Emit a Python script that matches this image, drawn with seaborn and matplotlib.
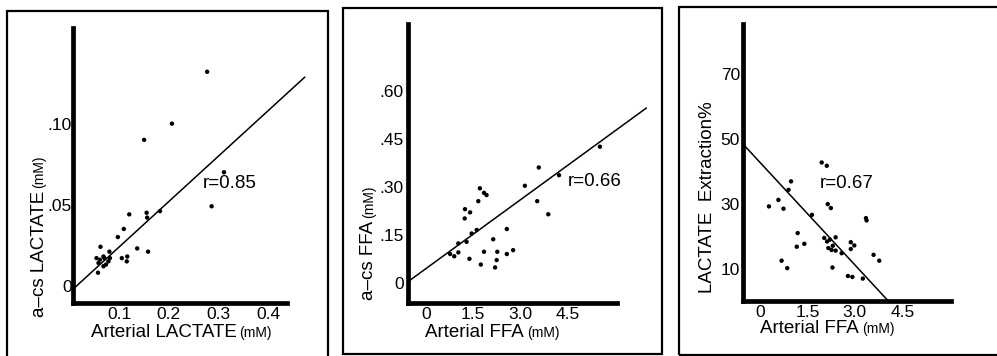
import numpy as np
import pandas as pd
import seaborn as sns
import matplotlib
matplotlib.use("Agg")
import matplotlib.pyplot as plt
from matplotlib.patches import Rectangle

# --- data ---
# panel A: arterial lactate vs a-cs lactate difference
lac_art = [0.277, 0.206, 0.150, 0.311, 0.286, 0.155, 0.156, 0.182, 0.120, 0.109,
           0.097, 0.062, 0.136, 0.158, 0.054, 0.068, 0.080, 0.081, 0.105, 0.116,
           0.115, 0.061, 0.058, 0.057, 0.068, 0.073, 0.078, 0.070]
lac_diff = [0.132, 0.100, 0.090, 0.070, 0.049, 0.045, 0.042, 0.046, 0.044, 0.035,
            0.030, 0.024, 0.023, 0.021, 0.017, 0.018, 0.021, 0.017, 0.017, 0.018,
            0.015, 0.016, 0.014, 0.008, 0.012, 0.013, 0.015, 0.017]
lac_fit_x = [0.006, 0.474]
lac_fit = (-0.004, 0.28)      # intercept, slope
lac_r = "r=0.85"

# panel B: arterial FFA vs a-cs FFA difference
ffa_art = [5.50, 3.57, 4.21, 3.13, 3.52, 3.87, 1.71, 1.84, 1.92, 1.66,
           1.24, 1.40, 1.23, 2.56, 1.61, 1.45, 2.13, 1.29, 1.03, 2.26,
           1.84, 2.76, 1.03, 2.56, 0.77, 0.90, 1.38, 2.24, 1.74, 2.19]
ffa_diff = [0.427, 0.362, 0.338, 0.305, 0.257, 0.216, 0.297, 0.283, 0.276, 0.257,
            0.232, 0.222, 0.203, 0.170, 0.167, 0.156, 0.138, 0.130, 0.125, 0.099,
            0.099, 0.104, 0.097, 0.092, 0.092, 0.085, 0.077, 0.073, 0.059, 0.050]
ffa_fit_x = [-0.57, 6.97]
ffa_fit = (0.046, 0.072)
ffa_r = "r=0.66"

# panel C: arterial FFA vs lactate extraction
ext_ffa = [1.95, 2.11, 0.98, 0.90, 0.58, 0.28, 0.74, 2.14, 2.24, 1.64,
           3.35, 3.37, 1.19, 2.03, 2.39, 2.12, 2.21, 2.87, 1.40, 2.98,
           1.16, 2.16, 2.30, 2.87, 2.39, 2.26, 2.58, 3.59, 3.77, 0.68,
           0.86, 2.29, 2.78, 2.92, 3.25]
ext_pct = [42.8, 41.8, 37.0, 34.4, 31.3, 29.3, 28.6, 30.0, 28.8, 26.7,
           25.7, 25.0, 21.1, 19.6, 19.8, 18.5, 19.1, 18.3, 17.8, 17.3,
           16.9, 16.5, 17.2, 16.2, 15.7, 15.9, 14.9, 14.4, 12.6, 12.6,
           10.3, 10.5, 7.9, 7.6, 7.1]
ext_fit_x = [-0.55, 4.07]
ext_fit = (42.8, -10.5)
ext_r = "r=0.67"

W, H = 997, 356
sns.set_style("white")
plt.rcParams['font.family'] = ['Liberation Sans', 'DejaVu Sans']
plt.rcParams['text.color'] = 'black'

fig = plt.figure(figsize=(W / 100, H / 100), dpi=100)


def fx(px):
    return px / W


def fy(py):
    return 1 - py / H


def box(l, t, r, b, lw=1.6):
    fig.patches.append(Rectangle((fx(l), fy(b)), fx(r - l), (b - t) / H,
                                 transform=fig.transFigure, fill=False,
                                 edgecolor="black", linewidth=lw))


def add_panel(l, t, r, b, xlim, ylim, ypad):
    ax = fig.add_axes([fx(l), fy(b), fx(r - l), (b - t) / H])
    ax.set_xlim(*xlim)
    ax.set_ylim(*ylim)
    sns.despine(ax=ax)
    for s in ("left", "bottom"):
        ax.spines[s].set_linewidth(3.4)
        ax.spines[s].set_color("black")
    ax.tick_params(length=0, labelsize=12.5, colors="black", labelcolor="black")
    ax.tick_params(axis="x", pad=3)
    ax.tick_params(axis="y", pad=ypad)
    ax.patch.set_alpha(0)
    return ax


def two_part(x, y, main, small, rot=0, size=13.5, small_size=10):
    # main text + smaller "(mM)" suffix, positioned in pixel coords
    kw = dict(transform=fig.transFigure, ha="left", va="baseline",
              rotation=rot, rotation_mode="anchor", color="black")
    t = fig.text(fx(x), fy(y), main, fontsize=size, **kw)
    if small:
        r = fig.canvas.get_renderer()
        ext = t.get_window_extent(renderer=r)
        if rot == 0:
            fig.text(fx(x + ext.width + 3), fy(y), small, fontsize=small_size, **kw)
        else:
            fig.text(fx(x), fy(y - ext.height - 3), small, fontsize=small_size, **kw)


def draw(ax, xs, ys, fit_x, fit, r_txt, r_xy):
    df = pd.DataFrame({"x": xs, "y": ys})
    sns.scatterplot(data=df, x="x", y="y", ax=ax, color="black", s=10,
                    edgecolor="none", legend=False)
    lx = np.array(fit_x)
    ly = fit[0] + fit[1] * lx
    ax.plot(lx, ly, color="black", lw=1.1, clip_on=False)
    ax.set_xlabel("")
    ax.set_ylabel("")
    fig.text(fx(r_xy[0]), fy(r_xy[1]), r_txt, fontsize=13.5, ha="left",
             va="center", color="black", transform=fig.transFigure)


# frames around the three panels
box(7, 11, 328, 358)
box(343, 8, 662, 354)
box(679, 7, 1000, 355)

# panel A
ax1 = add_panel(72.7, 28, 287, 302.7, (0.006, 0.438), (-0.0105, 0.159), 0.5)
draw(ax1, lac_art, lac_diff, lac_fit_x, lac_fit, lac_r, (203, 183))
ax1.set_xticks([0.1, 0.2, 0.3, 0.4], ["0.1", "0.2", "0.3", "0.4"])
ax1.set_yticks([0, 0.05, 0.10], ["0", ".05", ".10"])

# panel B
ax2 = add_panel(407.7, 24, 617.3, 302.7, (-0.57, 6.05), (-0.06, 0.81), 3)
draw(ax2, ffa_art, ffa_diff, ffa_fit_x, ffa_fit, ffa_r, (568, 182))
ax2.set_xticks([0, 1.5, 3.0, 4.5], ["0", "1.5", "3.0", "4.5"])
ax2.set_yticks([0, 0.15, 0.30, 0.45, 0.60], ["0", ".15", ".30", ".45", ".60"])

# panel C
ax3 = add_panel(742.7, 24, 951, 300.7, (-0.55, 6.04), (0.3, 85.4), 2)
draw(ax3, ext_ffa, ext_pct, ext_fit_x, ext_fit, ext_r, (820, 183))
ax3.set_xticks([0, 1.5, 3.0, 4.5], ["0", "1.5", "3.0", "4.5"])
ax3.set_yticks([10, 30, 50, 70], ["10", "30", "50", "70"])

# axis titles
two_part(90.7, 337, "Arterial LACTATE", "(mM)")
two_part(43.5, 317, "a\u2013cs LACTATE", "(mM)", rot=90)
two_part(425, 336.7, "Arterial FFA", "(mM)")
two_part(373, 300, "a\u2013cs FFA", "(mM)", rot=90)
two_part(760, 333, "Arterial FFA", "(mM)")
two_part(711.7, 293, "LACTATE  Extraction%", None, rot=90)

fig.savefig("out.png", dpi=100)
